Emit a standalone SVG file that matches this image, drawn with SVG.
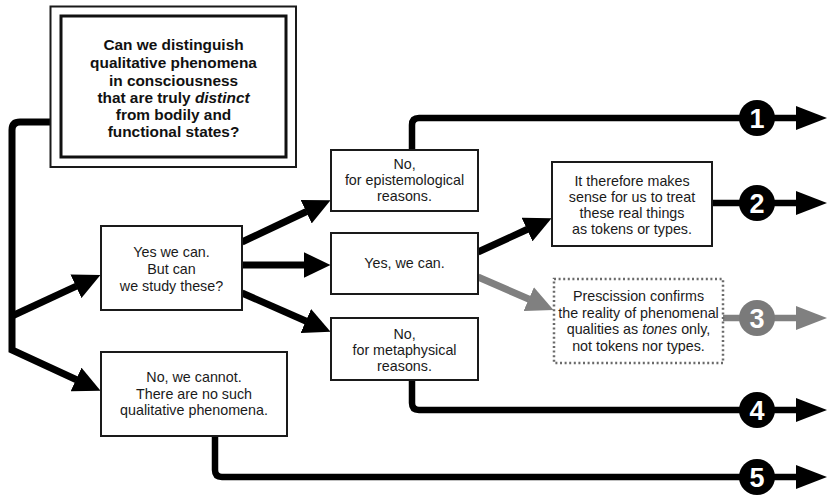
<svg xmlns="http://www.w3.org/2000/svg" width="829" height="496" viewBox="0 0 829 496">
<style>
.box{fill:#fff;stroke:#1a1a1a;stroke-width:2}
.dbox{fill:#fff;stroke:#6a6a6a;stroke-width:2.5;stroke-dasharray:2 2.6}
.t{font-family:"Liberation Sans",Arial,sans-serif;font-size:14.3px;fill:#1a1a1a;text-anchor:middle}
.tb{font-family:"Liberation Sans",Arial,sans-serif;font-size:15.4px;font-weight:bold;fill:#111;text-anchor:middle}
.c{fill:none;stroke:#000;stroke-width:7}
.cg{fill:none;stroke:#808080;stroke-width:7}
.x{fill:none;stroke:#000;stroke-width:6.5}
.xg{fill:none;stroke:#808080;stroke-width:6.5}
.num{font-family:"Liberation Sans",Arial,sans-serif;font-size:27px;font-weight:bold;fill:#fff;text-anchor:middle}
</style>
<defs>
<marker id="ah" viewBox="0 0 27 26" markerWidth="27" markerHeight="26" refX="0.5" refY="13" orient="auto" markerUnits="userSpaceOnUse"><path d="M0,0 L27,13 L0,26 z" fill="#000"/></marker>
<marker id="ahg" viewBox="0 0 27 26" markerWidth="27" markerHeight="26" refX="0.5" refY="13" orient="auto" markerUnits="userSpaceOnUse"><path d="M0,0 L27,13 L0,26 z" fill="#808080"/></marker>
<marker id="ae" viewBox="0 0 31 24" markerWidth="31" markerHeight="24" refX="1" refY="12" orient="auto" markerUnits="userSpaceOnUse"><path d="M0,0 L31,12 L0,24 z" fill="#000"/></marker>
<marker id="aeg" viewBox="0 0 31 24" markerWidth="31" markerHeight="24" refX="1" refY="12" orient="auto" markerUnits="userSpaceOnUse"><path d="M0,0 L31,12 L0,24 z" fill="#808080"/></marker>
</defs>
<rect width="829" height="496" fill="#fff"/>
<g id="connectors">
<path class="c" d="M50,122 H20 Q12,122 12,130 V350 L76.5,379.7" marker-end="url(#ah)"/>
<path class="c" d="M12,316 L76.4,286.1" marker-end="url(#ah)"/>
<path class="c" d="M242,242 L306.6,211.5" marker-end="url(#ah)"/>
<path class="c" d="M242,265 L304,265" marker-end="url(#ah)"/>
<path class="c" d="M242,293 L306.3,321.2" marker-end="url(#ah)"/>
<path class="c" d="M478,252 L527.5,229.3" marker-end="url(#ah)"/>
<path class="cg" d="M478,277 L529.2,299.3" marker-end="url(#ahg)"/>
<path class="x" d="M412,150 V125 Q412,118 419,118 H797" marker-end="url(#ae)"/>
<path class="x" d="M712,203 H797" marker-end="url(#ae)"/>
<path class="xg" d="M723,318 H797" marker-end="url(#aeg)"/>
<path class="x" d="M412,380 V403 Q412,410 419,410 H797" marker-end="url(#ae)"/>
<path class="x" d="M215,436 V470 Q215,477 222,477 H797" marker-end="url(#ae)"/>
</g>
<g id="q">
<rect x="50.5" y="6.5" width="245.5" height="160.5" fill="#fff" stroke="#1a1a1a" stroke-width="2"/>
<rect x="61" y="16" width="225" height="141" fill="#fff" stroke="#111" stroke-width="3"/>
<text class="tb" x="173.5" y="50">Can we distinguish</text>
<text class="tb" x="173.5" y="68">qualitative phenomena</text>
<text class="tb" x="173.5" y="86">in consciousness</text>
<text class="tb" x="173.5" y="103">that are truly <tspan font-style="italic">distinct</tspan></text>
<text class="tb" x="173.5" y="120">from bodily and</text>
<text class="tb" x="173.5" y="137">functional states?</text>
</g>
<g id="yes">
<rect class="box" x="101" y="226" width="141" height="84"/>
<text class="t" x="171.5" y="257">Yes we can.</text>
<text class="t" x="171.5" y="274">But can</text>
<text class="t" x="171.5" y="291">we study these?</text>
</g>
<g id="no">
<rect class="box" x="101" y="352" width="186" height="84"/>
<text class="t" x="194" y="382">No, we cannot.</text>
<text class="t" x="194" y="399">There are no such</text>
<text class="t" x="194" y="415">qualitative phenomena.</text>
</g>
<g id="noEpist">
<rect class="box" x="331" y="150" width="147" height="61"/>
<text class="t" x="404.5" y="169">No,</text>
<text class="t" x="404.5" y="185">for epistemological</text>
<text class="t" x="404.5" y="201">reasons.</text>
</g>
<g id="yesCan">
<rect class="box" x="331" y="233" width="147" height="61"/>
<text class="t" x="404.5" y="268">Yes, we can.</text>
</g>
<g id="noMeta">
<rect class="box" x="331" y="318" width="147" height="62"/>
<text class="t" x="404.5" y="339">No,</text>
<text class="t" x="404.5" y="355">for metaphysical</text>
<text class="t" x="404.5" y="371">reasons.</text>
</g>
<g id="tokens">
<rect class="box" x="552" y="162" width="160" height="84"/>
<text class="t" x="632" y="186">It therefore makes</text>
<text class="t" x="632" y="202">sense for us to treat</text>
<text class="t" x="632" y="218">these real things</text>
<text class="t" x="632" y="234">as tokens or types.</text>
</g>
<g id="prescission">
<rect class="dbox" x="554" y="279" width="169" height="84"/>
<text class="t" x="638.5" y="301">Prescission confirms</text>
<text class="t" x="638.5" y="317.5">the reality of phenomenal</text>
<text class="t" x="638.5" y="334">qualities as <tspan font-style="italic">tones</tspan> only,</text>
<text class="t" x="638.5" y="350.5">not tokens nor types.</text>
</g>
<g id="out1"><circle cx="757" cy="118" r="18" fill="#000"/><text class="num" x="757" y="127.5">1</text></g>
<g id="out2"><circle cx="757" cy="203" r="18" fill="#000"/><text class="num" x="757" y="212.5">2</text></g>
<g id="out3"><circle cx="757" cy="318" r="18" fill="#7a7a7a"/><text class="num" x="757" y="327.5">3</text></g>
<g id="out4"><circle cx="757" cy="410" r="18" fill="#000"/><text class="num" x="757" y="419.5">4</text></g>
<g id="out5"><circle cx="757" cy="477" r="18" fill="#000"/><text class="num" x="757" y="486.5">5</text></g>
</svg>
